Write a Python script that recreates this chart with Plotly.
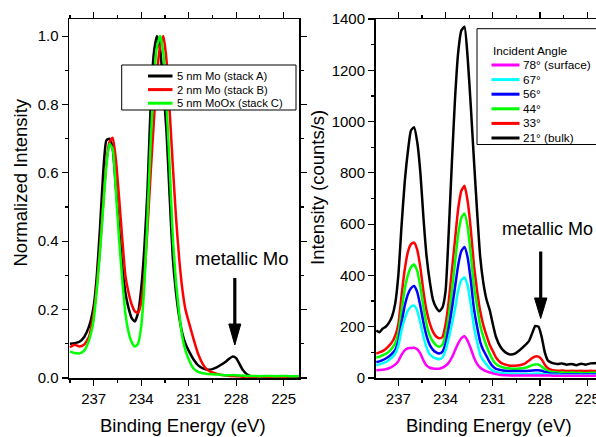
import plotly.graph_objects as go

W, H = 596, 437

# ---------------- data: left panel (normalized) ----------------
energy_left = [238.5, 238.2, 237.9, 237.6, 237.3, 237.0, 236.8, 236.6, 236.4, 236.2,
               236.0, 235.8, 235.6, 235.4, 235.2, 235.0, 234.8, 234.6, 234.4, 234.2,
               234.0, 233.8, 233.6, 233.4, 233.2, 233.0, 232.8, 232.6, 232.4, 232.2,
               232.0, 231.8, 231.6, 231.4, 231.2, 231.0, 230.7, 230.4, 230.1, 229.8,
               229.5, 229.2, 228.9, 228.6, 228.4, 228.2, 228.0, 227.8, 227.6, 227.3,
               227.0, 226.5, 226.0, 225.5, 225.0, 224.5, 224.0]
stack_a = [0.100, 0.102, 0.106, 0.120, 0.150, 0.210, 0.300, 0.440, 0.600, 0.695,
           0.700, 0.670, 0.560, 0.440, 0.330, 0.250, 0.205, 0.175, 0.165, 0.190,
           0.260, 0.380, 0.550, 0.800, 0.950, 1.000, 0.960, 0.850, 0.720, 0.530,
           0.350, 0.250, 0.180, 0.130, 0.100, 0.080, 0.055, 0.037, 0.028, 0.024,
           0.026, 0.032, 0.040, 0.050, 0.058, 0.063, 0.058, 0.042, 0.025, 0.010,
           0.004, 0.003, 0.003, 0.003, 0.003, 0.003, 0.003]
stack_b = [0.090, 0.097, 0.092, 0.098, 0.120, 0.190, 0.270, 0.380, 0.510, 0.630,
           0.690, 0.703, 0.640, 0.530, 0.410, 0.300, 0.250, 0.215, 0.195, 0.190,
           0.220, 0.300, 0.440, 0.600, 0.750, 0.890, 0.970, 1.000, 0.930, 0.780,
           0.620, 0.470, 0.350, 0.260, 0.200, 0.165, 0.115, 0.070, 0.040, 0.023,
           0.016, 0.012, 0.009, 0.007, 0.006, 0.006, 0.005, 0.005, 0.004, 0.004,
           0.003, 0.004, 0.003, 0.004, 0.004, 0.005, 0.005]
stack_c = [0.077, 0.073, 0.072, 0.080, 0.110, 0.170, 0.260, 0.370, 0.500, 0.620,
           0.685, 0.670, 0.550, 0.410, 0.290, 0.190, 0.135, 0.105, 0.092, 0.100,
           0.150, 0.270, 0.470, 0.690, 0.870, 0.970, 1.000, 0.950, 0.800, 0.620,
           0.410, 0.280, 0.190, 0.120, 0.080, 0.055, 0.028, 0.018, 0.014, 0.012,
           0.011, 0.010, 0.009, 0.008, 0.008, 0.009, 0.008, 0.007, 0.007, 0.006,
           0.006, 0.005, 0.006, 0.005, 0.006, 0.005, 0.006]
left_series = [stack_a, stack_b, stack_c]
left_names = ["5 nm Mo (stack A)", "2 nm Mo (stack B)", "5 nm MoOx (stack C)"]
left_colors = ["#000000", "#ff0000", "#00ff00"]

# ---------------- data: right panel (counts/s) ----------------
energy_right = [238.4, 238.2, 238.0, 237.8, 237.6, 237.4, 237.2, 237.0, 236.8, 236.6,
                236.4, 236.2, 236.0, 235.8, 235.6, 235.4, 235.2, 235.0, 234.8, 234.6,
                234.4, 234.2, 234.0, 233.8, 233.6, 233.4, 233.2, 233.0, 232.8, 232.6,
                232.4, 232.2, 232.0, 231.8, 231.6, 231.4, 231.2, 231.0, 230.8, 230.5,
                230.2, 229.9, 229.6, 229.3, 229.0, 228.7, 228.5, 228.3, 228.1, 227.9,
                227.7, 227.5, 227.2, 226.9, 226.6, 226.3, 226.0, 225.7, 225.4, 225.1,
                224.8, 224.5, 224.2]
angle_78 = [30, 31, 32, 34, 38, 44, 52, 66, 90, 108,
            116, 117, 118, 112, 95, 68, 48, 40, 37, 36,
            36, 40, 48, 60, 80, 108, 135, 155, 163, 145,
            115, 80, 55, 40, 32, 26, 22, 18, 15, 12,
            11, 10, 10, 10, 10, 10, 10, 10, 10, 10,
            10, 10, 9, 9, 9, 9, 9, 9, 9, 9,
            9, 9, 9]
angle_67 = [50, 53, 57, 62, 70, 80, 95, 125, 185, 230,
            262, 278, 282, 262, 215, 160, 118, 92, 82, 76,
            73, 80, 108, 155, 210, 270, 340, 382, 392, 360,
            285, 200, 140, 90, 68, 52, 38, 28, 23, 20,
            18, 17, 16, 16, 16, 16, 16, 17, 17, 16,
            15, 14, 13, 13, 12, 12, 12, 12, 12, 12,
            12, 12, 12]
angle_56 = [62, 65, 70, 76, 84, 95, 110, 145, 215, 280,
            325, 350, 359, 335, 280, 215, 162, 128, 110, 100,
            96, 102, 135, 195, 270, 355, 440, 495, 511, 470,
            380, 270, 200, 140, 108, 85, 62, 45, 36, 31,
            28, 27, 27, 27, 27, 28, 29, 30, 30, 28,
            24, 20, 17, 16, 15, 15, 15, 15, 14, 15,
            14, 15, 14]
angle_44 = [80, 83, 88, 94, 103, 116, 135, 175, 260, 345,
            400, 432, 443, 418, 355, 275, 208, 165, 142, 128,
            122, 130, 170, 240, 340, 450, 560, 625, 642, 590,
            480, 360, 280, 205, 160, 125, 95, 70, 55, 44,
            39, 37, 36, 37, 39, 45, 50, 53, 52, 45,
            35, 28, 23, 21, 21, 20, 21, 20, 20, 19,
            20, 20, 20]
angle_33 = [95, 100, 105, 113, 125, 140, 165, 210, 320, 420,
            490, 522, 528, 500, 430, 335, 260, 212, 180, 162,
            155, 160, 210, 300, 420, 540, 660, 730, 750, 690,
            580, 440, 340, 260, 205, 165, 130, 105, 80, 60,
            52, 48, 48, 50, 55, 68, 78, 84, 83, 72,
            52, 38, 30, 28, 29, 27, 28, 27, 28, 27,
            28, 27, 28]
angle_21 = [185, 178, 192, 200, 215, 240, 290, 400, 590, 760,
            880, 965, 978, 920, 800, 620, 470, 375, 305, 275,
            260, 275, 340, 570, 840, 1090, 1270, 1355, 1370, 1250,
            1060, 850, 650, 470, 370, 305, 265, 210, 160, 120,
            100, 92, 95, 108, 125, 145, 175, 203, 200, 160,
            100, 68, 58, 55, 57, 52, 55, 50, 56, 52,
            57, 58, 60]
right_series = [angle_78, angle_67, angle_56, angle_44, angle_33, angle_21]
right_names = ["78° (surface)", "67°", "56°", "44°", "33°", "21° (bulk)"]
right_colors = ["#ff00ff", "#00ffff", "#0000ff", "#00ff00", "#ff0000", "#000000"]

x_tick_vals = [237, 234, 231, 228, 225]
left_y_ticks = [0.0, 0.2, 0.4, 0.6, 0.8, 1.0]
right_y_ticks = [0, 200, 400, 600, 800, 1000, 1200, 1400]

FONT = "Liberation Sans, Arial, sans-serif"


def px(x):
    return x / W


def py(y):
    return 1 - y / H


fig = go.Figure()

for vals, name, col in zip(left_series, left_names, left_colors):
    fig.add_trace(go.Scatter(x=energy_left, y=vals, mode="lines", name=name,
                             line=dict(color=col, width=2.5, shape="spline", smoothing=0.5),
                             xaxis="x", yaxis="y", showlegend=False))

for vals, name, col in reversed(list(zip(right_series, right_names, right_colors))):
    fig.add_trace(go.Scatter(x=energy_right, y=vals, mode="lines", name=name,
                             line=dict(color=col, width=2.5, shape="spline", smoothing=0.5),
                             xaxis="x2", yaxis="y2", showlegend=False))

ydom = [py(378), py(19)]
axis_common = dict(showgrid=False, zeroline=False, showline=True, linecolor="black",
                   linewidth=1.5, ticks="outside", ticklen=6, tickwidth=1.2,
                   tickcolor="black", automargin=False,
                   tickfont=dict(family=FONT, size=15, color="black"))
minor_common = dict(ticks="outside", ticklen=3, tickwidth=1.2, tickcolor="black")

fig.update_layout(
    width=W, height=H, autosize=False,
    margin=dict(l=0, r=0, t=0, b=0, pad=0, autoexpand=False),
    paper_bgcolor="white", plot_bgcolor="white",
    showlegend=False,
    font=dict(family=FONT, color="black"),
    xaxis=dict(domain=[px(69), px(299)], range=[238.56, 224.03], anchor="y",
               tickvals=x_tick_vals, mirror="ticks",
               minor=dict(tick0=225, dtick=1.5, **minor_common),
               **axis_common),
    yaxis=dict(domain=ydom, range=[0, 1.05], anchor="x",
               tickvals=left_y_ticks, tickformat=".1f", mirror="ticks",
               minor=dict(tick0=0, dtick=0.1, **minor_common),
               **axis_common),
    xaxis2=dict(domain=[px(375.5), 1.0], range=[238.45, 224.45], anchor="y2",
                tickvals=x_tick_vals, mirror="ticks", ticklabeloverflow="allow",
                minor=dict(tick0=225, dtick=1.5, **minor_common),
                **axis_common),
    yaxis2=dict(domain=ydom, range=[0, 1400], anchor="x2",
                tickvals=right_y_ticks, mirror=False,
                minor=dict(tick0=0, dtick=100, **minor_common),
                **axis_common),
)

shapes = []
annotations = []

# axis titles and labels
title_font = dict(family=FONT, size=18.5, color="black")
annotations += [
    dict(text="Binding Energy (eV)", x=px(183), y=py(425), xref="paper", yref="paper",
         showarrow=False, font=title_font, xanchor="center", yanchor="middle"),
    dict(text="Binding Energy (eV)", x=px(489), y=py(425), xref="paper", yref="paper",
         showarrow=False, font=title_font, xanchor="center", yanchor="middle"),
    dict(text="Normalized Intensity", x=px(20), y=py(182.5), xref="paper", yref="paper",
         showarrow=False, font=title_font, textangle=-90, xanchor="center", yanchor="middle"),
    dict(text="Intensity (counts/s)", x=px(317.5), y=py(187.5), xref="paper", yref="paper",
         showarrow=False, font=title_font, textangle=-90, xanchor="center", yanchor="middle"),
    dict(text="metallic Mo", x=px(192.5), y=py(258), xref="paper", yref="paper",
         showarrow=False, font=title_font, xanchor="left", yanchor="middle"),
    dict(text="metallic Mo", x=px(500), y=py(228.5), xref="paper", yref="paper",
         showarrow=False, font=dict(family=FONT, size=18, color="black"),
         xanchor="left", yanchor="middle"),
]

# arrows (shaft + head)
for sx, top, base, tip, hw in [(234.8, 278, 324, 345, 6), (540.7, 251.5, 298, 318.5, 6.2)]:
    shapes.append(dict(type="line", xref="paper", yref="paper",
                       x0=px(sx), x1=px(sx), y0=py(top), y1=py(base + 2),
                       line=dict(color="black", width=3.2)))
    shapes.append(dict(type="path", xref="paper", yref="paper",
                       path=f"M {px(sx - hw)},{py(base)} L {px(sx + hw)},{py(base)} L {px(sx)},{py(tip)} Z",
                       fillcolor="black", line=dict(color="black", width=1)))

# legend 1 (left panel)
shapes.append(dict(type="rect", xref="paper", yref="paper", layer="above",
                   x0=px(121.7), x1=px(296), y0=py(110), y1=py(65),
                   fillcolor="white", line=dict(color="black", width=1)))
leg_font1 = dict(family=FONT, size=11.2, color="black")
for i, (name, col) in enumerate(zip(left_names, left_colors)):
    yy = 76 + i * 13.6
    shapes.append(dict(type="line", xref="paper", yref="paper", layer="above",
                       x0=px(148), x1=px(172.5), y0=py(yy), y1=py(yy),
                       line=dict(color=col, width=3)))
    annotations.append(dict(text=name, x=px(174.5), y=py(yy), xref="paper", yref="paper",
                            showarrow=False, font=leg_font1, xanchor="left", yanchor="middle"))

# legend 2 (right panel)
shapes.append(dict(type="rect", xref="paper", yref="paper", layer="above",
                   x0=px(477), x1=px(640), y0=py(144.5), y1=py(28.7),
                   fillcolor="white", line=dict(color="black", width=1)))
leg_font2 = dict(family=FONT, size=11.8, color="black")
annotations.append(dict(text="Incident Angle", x=px(491), y=py(50.7), xref="paper", yref="paper",
                        showarrow=False, font=leg_font2, xanchor="left", yanchor="middle"))
for i, (name, col) in enumerate(zip(right_names, right_colors)):
    yy = 65 + i * 14.6
    shapes.append(dict(type="line", xref="paper", yref="paper", layer="above",
                       x0=px(491.5), x1=px(519.5), y0=py(yy), y1=py(yy),
                       line=dict(color=col, width=3)))
    annotations.append(dict(text=name, x=px(520.5), y=py(yy), xref="paper", yref="paper",
                            showarrow=False, font=leg_font2, xanchor="left", yanchor="middle"))

fig.update_layout(shapes=shapes, annotations=annotations)
fig.write_html("out.html",
               config={"displayModeBar": False, "staticPlot": True},
               post_script="document.body.style.margin='0';document.body.style.overflow='hidden';")
